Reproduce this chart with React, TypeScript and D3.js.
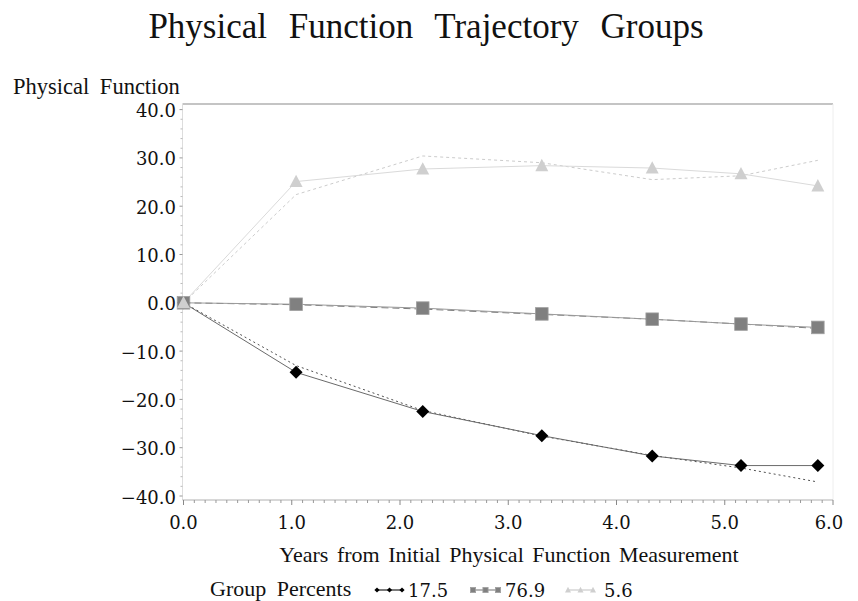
import React from "react";
import * as d3 from "d3";

const years = [0, 1.04, 2.21, 3.31, 4.33, 5.15, 5.86];
const grp1Obs = [0, -14.4, -22.5, -27.5, -31.7, -33.7, -33.7];
const grp1Pred = [0, -13.0, -22.3, -27.6, -31.6, -34.2, -37.1];
const grp2Obs = [0, -0.3, -1.1, -2.3, -3.4, -4.4, -5.1];
const grp2Pred = [0, -0.4, -1.3, -2.4, -3.4, -4.4, -5.3];
const grp3Obs = [0, 25.1, 27.7, 28.4, 27.9, 26.7, 24.2];
const grp3Pred = [0, 22.4, 30.4, 29.0, 25.5, 26.3, 29.5];
const groupPercents = ["17.5", "76.9", "5.6"];
const xTicks = [0, 1, 2, 3, 4, 5, 6];
const yTicks = [-40, -30, -20, -10, 0, 10, 20, 30, 40];

const W = 858;
const H = 601;
const serif = "'Liberation Serif', 'Times New Roman', serif";
const tickFont = "'DejaVu Serif', serif";

const fmt = (v: number) => (v < 0 ? "\u2212" + Math.abs(v).toFixed(1) : v.toFixed(1));

function marker(kind: string, cx: number, cy: number, s: number, key: string | number) {
  if (kind === "diamond") {
    return (
      <path key={key} d={`M${cx},${cy - s}L${cx + s},${cy}L${cx},${cy + s}L${cx - s},${cy}Z`} fill="#000" />
    );
  }
  if (kind === "square") {
    return <rect key={key} x={cx - s} y={cy - s} width={2 * s} height={2 * s} fill="#808080" stroke="#a0a0a0" strokeWidth={0.8} />;
  }
  return (
    <path key={key} d={`M${cx},${cy - s * 1.05}L${cx + s},${cy + s * 0.85}L${cx - s},${cy + s * 0.85}Z`} fill="#cfcfcf" />
  );
}

export default function App() {
  const x = d3.scaleLinear().domain([0, 6]).range([183.5, 833]);
  const y = d3.scaleLinear().domain([-40, 40]).range([496, 109.6]);
  const plotTop = 104;
  const plotBottom = 500;
  const plotLeft = 182.5;
  const plotRight = 833;

  const line = d3
    .line<number>()
    .x((_, i) => x(years[i]))
    .y((d) => y(d));

  const xMinor = d3.range(0, 60).map((i) => i / 10).filter((v) => Math.abs(v - Math.round(v)) > 1e-6);
  const yMinor = d3.range(-40, 41, 2).filter((v) => v % 10 !== 0);

  const series = [
    { obs: grp1Obs, pred: grp1Pred, kind: "diamond", obsColor: "#6a6a6a", predColor: "#505050", predDash: "2,3", size: 6.5 },
    { obs: grp2Obs, pred: grp2Pred, kind: "square", obsColor: "#9a9a9a", predColor: "#7a7a7a", predDash: "7,4", size: 6.3 },
    { obs: grp3Obs, pred: grp3Pred, kind: "triangle", obsColor: "#dadada", predColor: "#cccccc", predDash: "3,3", size: 6.5 },
  ];

  const legendItems = [
    { kind: "diamond", x0: 377, color: "#222", textX: 408, s: 2.6 },
    { kind: "square", x0: 473, color: "#888", textX: 505, s: 2.6 },
    { kind: "triangle", x0: 568, color: "#ccc", textX: 604, s: 3.0 },
  ];

  return (
    <svg width={W} height={H} style={{ position: "absolute", left: 0, top: 0, background: "#fff" }}>
      <rect x={0} y={0} width={W} height={H} fill="#fff" />
      <text x={426} y={38} textAnchor="middle" fontFamily={serif} fontSize={35} wordSpacing={13} fill="#111">
        Physical Function Trajectory Groups
      </text>
      <text x={13} y={94} fontFamily={serif} fontSize={22.5} wordSpacing={5} fill="#111">
        Physical Function
      </text>

      {/* frame */}
      <line x1={plotLeft} x2={plotRight} y1={plotTop} y2={plotTop} stroke="#8a8a8a" strokeWidth={1.2} />
      <line x1={plotRight} x2={plotRight} y1={plotTop} y2={plotBottom} stroke="#eeeeee" strokeWidth={1} />
      <line x1={plotLeft} x2={plotLeft} y1={plotTop} y2={plotBottom} stroke="#dddddd" strokeWidth={1} />
      <line x1={plotLeft} x2={plotRight} y1={plotBottom} y2={plotBottom} stroke="#b0b0b0" strokeWidth={1} />

      {/* y ticks */}
      {yMinor.map((v) => (
        <line key={"ym" + v} x1={plotLeft - 2} x2={plotLeft} y1={y(v)} y2={y(v)} stroke="#bbb" strokeWidth={1} />
      ))}
      {yTicks.map((v) => (
        <g key={"yt" + v}>
          <line x1={plotLeft - 3} x2={plotLeft} y1={y(v)} y2={y(v)} stroke="#999" strokeWidth={1} />
          <text x={176} y={y(v) + 7.5} textAnchor="end" fontFamily={tickFont} fontSize={18} fill="#111">
            {fmt(v)}
          </text>
        </g>
      ))}

      {/* x ticks */}
      {xMinor.map((v) => (
        <line key={"xm" + v} x1={x(v)} x2={x(v)} y1={plotBottom} y2={plotBottom + 3} stroke="#999" strokeWidth={1} />
      ))}
      {xTicks.map((v) => (
        <g key={"xt" + v}>
          <line x1={x(v)} x2={x(v)} y1={plotBottom} y2={plotBottom + 5} stroke="#888" strokeWidth={1} />
          <text x={v === 6 ? x(v) - 4 : x(v)} y={529} textAnchor="middle" fontFamily={tickFont} fontSize={18} fill="#111">
            {v.toFixed(1)}
          </text>
        </g>
      ))}

      <text x={509} y={562} textAnchor="middle" fontFamily={serif} fontSize={22} wordSpacing={3} fill="#111">
        Years from Initial Physical Function Measurement
      </text>

      {/* lines */}
      {series.map((s, i) => (
        <g key={"ln" + i}>
          <path d={line(s.pred) || ""} fill="none" stroke={s.predColor} strokeWidth={1} strokeDasharray={s.predDash} />
          <path d={line(s.obs) || ""} fill="none" stroke={s.obsColor} strokeWidth={1} />
        </g>
      ))}
      {/* markers */}
      {series.map((s, i) => (
        <g key={"mk" + i}>{s.obs.map((v, j) => marker(s.kind, x(years[j]), y(v), s.size, j))}</g>
      ))}

      {/* legend */}
      <text x={210} y={596} fontFamily={serif} fontSize={22} wordSpacing={5} fill="#111">
        Group Percents
      </text>
      {legendItems.map((it, i) => (
        <g key={"lg" + i}>
          <line x1={it.x0} x2={it.x0 + 25} y1={590} y2={590} stroke={it.color} strokeWidth={1.2} />
          {[0, 12.5, 25].map((dx, k) => marker(it.kind, it.x0 + dx, 590, it.s, k))}
          <text x={it.textX} y={597} fontFamily={tickFont} fontSize={18} fill="#111">
            {groupPercents[i]}
          </text>
        </g>
      ))}
    </svg>
  );
}
